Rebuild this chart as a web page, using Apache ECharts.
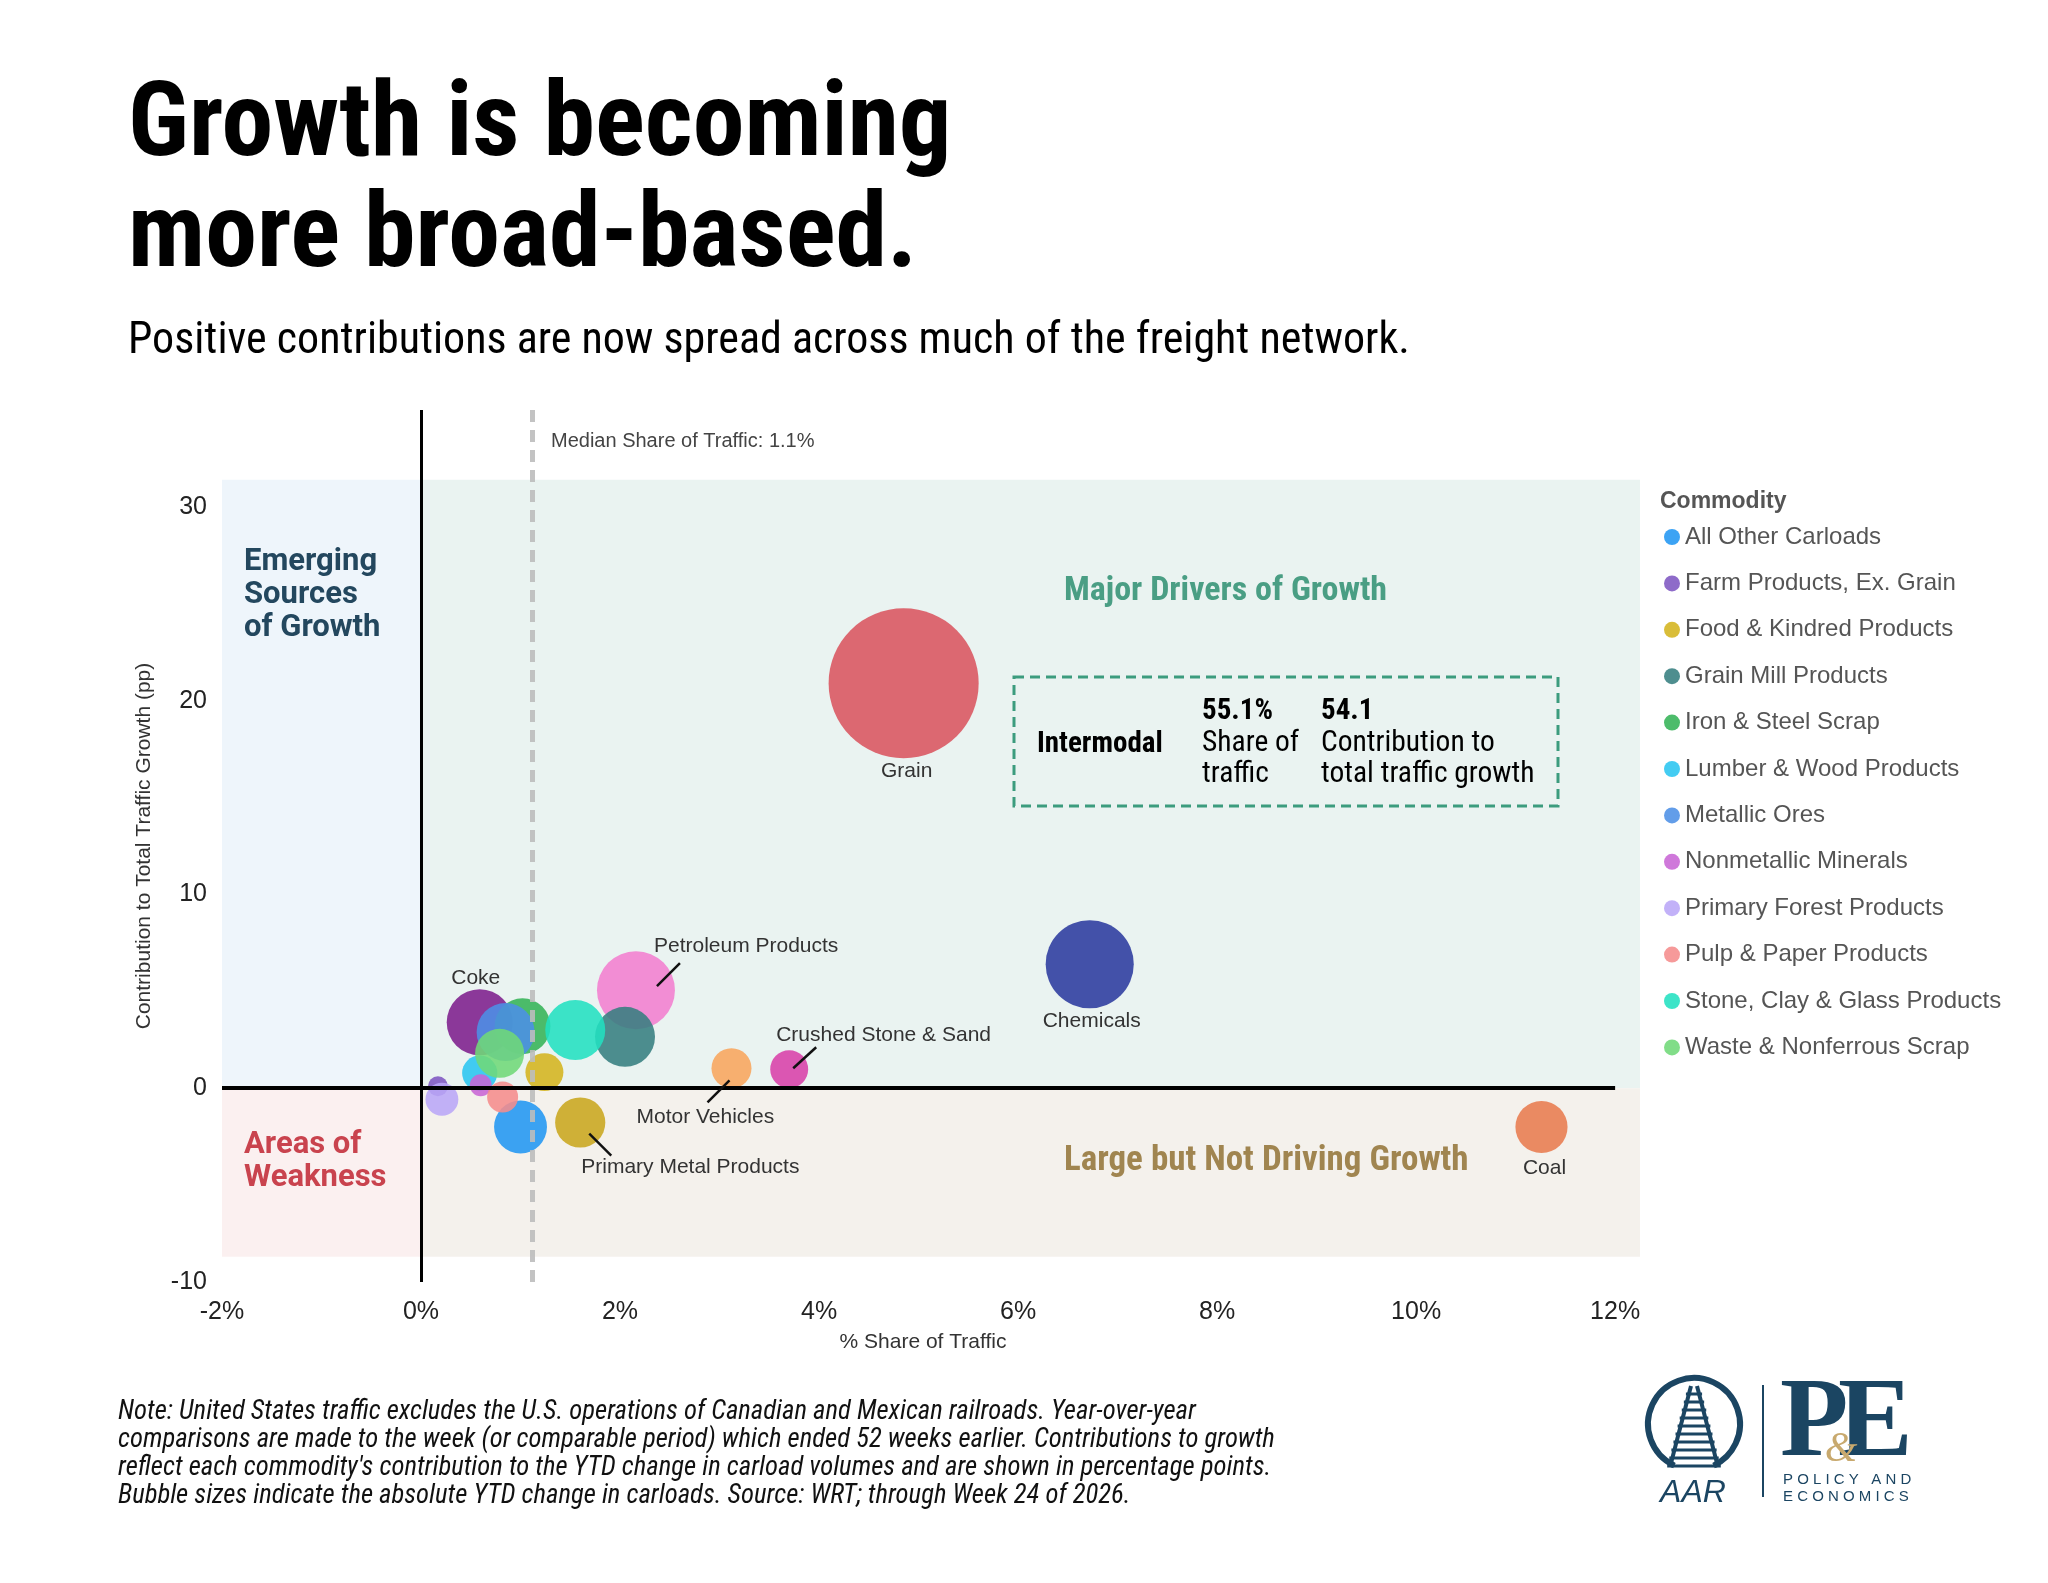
<!DOCTYPE html>
<html>
<head>
<meta charset="utf-8">
<script src="https://cdn.jsdelivr.net/npm/echarts@6/dist/echarts.min.js"></script>
<style>
html, body { margin: 0; padding: 0; background: #fff; }
#chart { width: 2048px; height: 1583px; }
</style>
</head>
<body>
<div id="chart"></div>
<script type="text/javascript">

// commodities labelled directly on the chart (not in legend)
var bigNames = ['Grain', 'Chemicals', 'Coal', 'Petroleum Products', 'Coke', 'Crushed Stone & Sand', 'Motor Vehicles', 'Primary Metal Products'];
var bigShare = [4.85, 6.72, 11.26, 2.16, 0.59, 3.70, 3.12, 1.60];
var bigContrib = [20.9, 6.4, -2.0, 5.06, 3.4, 0.98, 1.03, -1.77];
var bigChange = [56.3, 19.4, 6.8, 15.2, 10.9, 3.6, 4.0, 6.3];   // abs YTD change, thousand carloads
var bigColors = ['#D9545F', '#2B3A9E', '#E87B4F', '#F27ECF', '#7D1E8C', '#D840A8', '#F8A55C', '#C9A61E'];

// commodities in the legend
var legendNames = ['All Other Carloads', 'Farm Products, Ex. Grain', 'Food & Kindred Products', 'Grain Mill Products',
    'Iron & Steel Scrap', 'Lumber & Wood Products', 'Metallic Ores', 'Nonmetallic Minerals',
    'Primary Forest Products', 'Pulp & Paper Products', 'Stone, Clay & Glass Products', 'Waste & Nonferrous Scrap'];
var share = [1.00, 0.17, 1.24, 2.05, 1.02, 0.59, 0.85, 0.60, 0.21, 0.82, 1.55, 0.79];
var contrib = [-2.0, 0.1, 0.83, 2.65, 3.2, 0.78, 2.9, 0.15, -0.57, -0.45, 3.0, 1.8];
var change = [7.0, 1.0, 3.6, 9.0, 7.8, 3.1, 8.4, 1.2, 2.7, 2.4, 9.0, 6.0];
var colors = ['#2196F3', '#7E57C2', '#D4B41E', '#367E80', '#34B356', '#29C5F0', '#4C8FE6', '#C865D5',
    '#B9A6F7', '#F58C8C', '#22E0C0', '#6FD877'];

var medianShare = 1.12;
var intermodalShare = '55.1%';
var intermodalContrib = '54.1';

var NARROW = '"Liberation Sans Narrow", "Roboto Condensed", "DejaVu Sans Condensed", sans-serif';
var SANS = '"Liberation Sans", Arial, sans-serif';

function bubbleSize(v) {
    return 20 * Math.sqrt(v);
}

// label placement for the directly labelled bubbles (pixel offsets from bubble centre)
var callouts = {
    'Grain': { text: [3, 88], align: 'center' },
    'Chemicals': { text: [2, 57], align: 'center' },
    'Coal': { text: [3, 41], align: 'center' },
    'Coke': { text: [-4, -44], align: 'center' },
    'Petroleum Products': { text: [18, -44], align: 'left', line: [21, -4, 44, -27] },
    'Crushed Stone & Sand': { text: [-13, -34], align: 'left', line: [4, -1, 27, -22] },
    'Motor Vehicles': { text: [-95, 49], align: 'left', line: [-2, 12, -24, 34] },
    'Primary Metal Products': { text: [1, 45], align: 'left', line: [9, 11, 31, 33] }
};

var series = [];

// quadrant backgrounds and zero lines
series.push({
    type: 'scatter',
    name: 'bg',
    data: [],
    silent: true,
    z: 1,
    markArea: {
        silent: true,
        data: [
            [{ coord: [-2, 0], itemStyle: { color: '#EEF5FB' } }, { coord: [0, 31.4] }],
            [{ coord: [0, 0], itemStyle: { color: '#EAF3F1' } }, { coord: [12.25, 31.4] }],
            [{ coord: [-2, -8.7], itemStyle: { color: '#FBF0F0' } }, { coord: [0, 0] }],
            [{ coord: [0, -8.7], itemStyle: { color: '#F4F1EC' } }, { coord: [12.25, 0] }]
        ]
    },
    markLine: {
        silent: true,
        symbol: ['none', 'none'],
        label: { show: false },
        animation: false,
        data: [
            [{ coord: [0, -10], lineStyle: { color: '#000', width: 3, type: 'solid' } }, { coord: [0, 35] }],
            [{ coord: [-2, 0], lineStyle: { color: '#000', width: 4, type: 'solid' } }, { coord: [12, 0] }]
        ]
    }
});

series.push({
    type: 'scatter',
    name: 'labelled',
    z: 3,
    data: bigNames.map(function (n, i) {
        return { name: n, value: [bigShare[i], bigContrib[i], bigChange[i]], itemStyle: { color: bigColors[i] } };
    }),
    symbolSize: function (d) { return bubbleSize(d[2]); },
    itemStyle: { opacity: 0.88 }
});

legendNames.forEach(function (n, i) {
    series.push({
        type: 'scatter',
        name: n,
        z: 3,
        data: [[share[i], contrib[i], change[i]]],
        symbolSize: function (d) { return bubbleSize(d[2]); },
        itemStyle: { color: colors[i], opacity: 0.88 }
    });
});

series.push({
    type: 'custom',
    name: 'callouts',
    z: 6,
    silent: true,
    data: bigNames.map(function (n, i) { return [bigShare[i], bigContrib[i]]; }),
    renderItem: function (params, api) {
        var i = params.dataIndex;
        var p = api.coord([api.value(0), api.value(1)]);
        var c = callouts[bigNames[i]];
        var kids = [];
        if (c.line) {
            kids.push({
                type: 'line',
                shape: { x1: p[0] + c.line[0], y1: p[1] + c.line[1], x2: p[0] + c.line[2], y2: p[1] + c.line[3] },
                style: { stroke: '#111', lineWidth: 2.5 }
            });
        }
        kids.push({
            type: 'text',
            style: {
                text: bigNames[i], x: p[0] + c.text[0], y: p[1] + c.text[1],
                align: c.align, verticalAlign: 'middle', fill: '#333', font: '21px ' + SANS
            }
        });
        return { type: 'group', children: kids };
    }
});

// median share line
series.push({
    type: 'scatter',
    name: 'median',
    data: [],
    z: 8,
    markLine: {
        silent: true,
        symbol: ['none', 'none'],
        label: { show: false },
        animation: false,
        lineStyle: { color: '#BDBDBD', width: 5, type: [12, 8], opacity: 0.9 },
        data: [[{ coord: [medianShare, -10] }, { coord: [medianShare, 35] }]]
    }
});

function txt(x, y, text, font, fill, align) {
    return {
        type: 'text', x: x, y: y, z: 100, silent: true,
        style: { text: text, font: font, fill: fill || '#000', align: align || 'left', verticalAlign: 'middle' }
    };
}

function ln(x1, y1, x2, y2, w) {
    return { type: 'line', z: 100, silent: true, shape: { x1: x1, y1: y1, x2: x2, y2: y2 }, style: { stroke: '#1B4562', lineWidth: w } };
}

var graphics = [
    txt(128, 129, 'Growth is becoming', 'bold 104px ' + NARROW, '#000'),
    txt(128, 240, 'more broad-based.', 'bold 104px ' + NARROW, '#000'),
    txt(128, 342, 'Positive contributions are now spread across much of the freight network.', '44px ' + NARROW, '#000'),
    txt(551, 441, 'Median Share of Traffic: ' + medianShare.toFixed(1) + '%', '20px ' + SANS, '#444'),

    txt(244, 562, 'Emerging', 'bold 31px Roboto, ' + SANS, '#23475E'),
    txt(244, 595, 'Sources', 'bold 31px Roboto, ' + SANS, '#23475E'),
    txt(244, 628, 'of Growth', 'bold 31px Roboto, ' + SANS, '#23475E'),
    txt(244, 1145, 'Areas of', 'bold 31px Roboto, ' + SANS, '#C9434E'),
    txt(244, 1178, 'Weakness', 'bold 31px Roboto, ' + SANS, '#C9434E'),
    txt(1064, 591, 'Major Drivers of Growth', 'bold 34px ' + NARROW, '#4A9E84'),
    txt(1064, 1161, 'Large but Not Driving Growth', 'bold 35px ' + NARROW, '#A08550'),

    {
        type: 'rect', z: 100, silent: true,
        shape: { x: 1014, y: 677, width: 544, height: 129 },
        style: { fill: 'none', stroke: '#3C9C7E', lineWidth: 3, lineDash: [10, 6] }
    },
    txt(1037, 745, 'Intermodal', 'bold 29px ' + NARROW, '#000'),
    txt(1202, 712, intermodalShare, 'bold 29px ' + NARROW, '#000'),
    txt(1202, 744, 'Share of', '29.5px ' + NARROW, '#000'),
    txt(1202, 775, 'traffic', '29.5px ' + NARROW, '#000'),
    txt(1321, 712, intermodalContrib, 'bold 29px ' + NARROW, '#000'),
    txt(1321, 744, 'Contribution to', '29.5px ' + NARROW, '#000'),
    txt(1321, 775, 'total traffic growth', '29.5px ' + NARROW, '#000'),

    txt(1660, 502, 'Commodity', 'bold 23px ' + SANS, '#555'),

    txt(118, 1412, 'Note: United States traffic excludes the U.S. operations of Canadian and Mexican railroads. Year-over-year', 'italic 26.7px ' + NARROW, '#111'),
    txt(118, 1440, 'comparisons are made to the week (or comparable period) which ended 52 weeks earlier. Contributions to growth', 'italic 26.7px ' + NARROW, '#111'),
    txt(118, 1468, 'reflect each commodity\'s contribution to the YTD change in carload volumes and are shown in percentage points.', 'italic 26.7px ' + NARROW, '#111'),
    txt(118, 1496, 'Bubble sizes indicate the absolute YTD change in carloads. Source: WRT; through Week 24 of 2026.', 'italic 26.7px ' + NARROW, '#111'),

    // logo
    {
        type: 'arc', z: 100, silent: true,
        shape: { cx: 1694, cy: 1424, r: 46, startAngle: Math.PI * 0.64, endAngle: Math.PI * 2.36, clockwise: true },
        style: { stroke: '#1B4562', lineWidth: 6, fill: 'none' }
    },
    ln(1691, 1386, 1670, 1467, 4),
    ln(1697, 1386, 1718, 1467, 4),
    txt(1693, 1493, 'AAR', 'italic 32px ' + SANS, '#1B4562', 'center'),
    ln(1763, 1385, 1763, 1497, 2),
    txt(1780, 1426, 'P', 'bold 112px "Liberation Serif", "DejaVu Serif", serif', '#1B4562'),
    txt(1838, 1426, 'E', 'bold 112px "Liberation Serif", "DejaVu Serif", serif', '#1B4562'),
    txt(1841, 1450, '&', 'italic 42px "Liberation Serif", serif', '#C8A96E', 'center'),
    txt(1783, 1480, 'P O L I C Y   A N D', '15px ' + SANS, '#1B4562'),
    txt(1783, 1497, 'E C O N O M I C S', '15px ' + SANS, '#1B4562')
];

// cross ties of the rail mark
for (var t = 0; t < 10; t++) {
    var ty = 1394 + t * 8;
    var hw = 3 + (ty - 1386) * 0.26 + 3;
    graphics.push(ln(1694 - hw, ty, 1694 + hw, ty, 3));
}

var option = {
    backgroundColor: '#fff',
    animation: false,
    grid: { left: 222, top: 410, width: 1418, height: 872, containLabel: false },
    xAxis: {
        type: 'value',
        min: -2,
        max: 12.25,
        interval: 2,
        axisLine: { show: false },
        axisTick: { show: false },
        splitLine: { show: false },
        axisLabel: {
            fontSize: 25, color: '#222', margin: 18, fontFamily: SANS,
            formatter: function (v) { return (Math.abs(v % 2) < 1e-9 && v <= 12) ? v + '%' : ''; }
        },
        name: '% Share of Traffic',
        nameLocation: 'middle',
        nameGap: 50,
        nameTextStyle: { fontSize: 21, color: '#333', fontFamily: SANS, padding: [0, 16, 0, 0] }
    },
    yAxis: {
        type: 'value',
        min: -10,
        max: 35,
        interval: 10,
        axisLine: { show: false },
        axisTick: { show: false },
        splitLine: { show: false },
        axisLabel: {
            fontSize: 25, color: '#222', margin: 15, fontFamily: SANS,
            formatter: function (v) { return (Math.abs(v % 10) < 1e-9) ? String(v) : ''; }
        },
        name: 'Contribution to Total Traffic Growth (pp)',
        nameLocation: 'middle',
        nameGap: 67,
        nameTextStyle: { fontSize: 21, color: '#333', fontFamily: SANS }
    },
    legend: {
        data: legendNames,
        orient: 'vertical',
        left: 1659,
        top: 520,
        itemWidth: 16,
        itemHeight: 16,
        itemGap: 22.4,
        icon: 'circle',
        selectedMode: false,
        textStyle: { fontSize: 24, color: '#555', fontFamily: SANS }
    },
    graphic: graphics,
    series: series
};

var chart = echarts.init(document.getElementById('chart'));
chart.setOption(option);

</script>
</body>
</html>
